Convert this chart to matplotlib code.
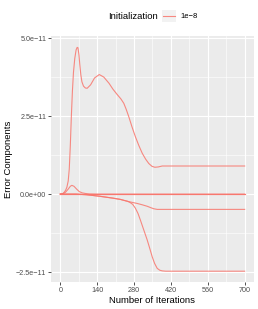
import numpy as np
import matplotlib.pyplot as plt
from matplotlib.lines import Line2D
from matplotlib.patches import Rectangle

plt.rcParams['font.family'] = ['Liberation Sans', 'DejaVu Sans']

# 数据（单位 1e-11）
big_x = [0, 10, 15, 20, 25, 30, 34, 38, 42, 46, 50, 55, 60, 64, 67, 71, 74, 78, 82,
         88, 95, 102, 115, 130, 148, 165, 185, 200, 215, 230, 241, 250, 260, 272,
         285, 298, 311, 324, 336, 348, 359, 372, 387, 420, 700]
big_y = [0, 0.02, 0.06, 0.12, 0.22, 0.42, 0.8, 1.55, 2.5, 3.3, 3.9, 4.35, 4.62,
         4.70, 4.69, 4.45, 4.15, 3.82, 3.6, 3.46, 3.4, 3.39, 3.5, 3.72, 3.83, 3.75,
         3.55, 3.36, 3.2, 3.05, 2.91, 2.72, 2.48, 2.16, 1.84, 1.56, 1.31, 1.12, 0.98,
         0.89, 0.86, 0.87, 0.90, 0.90, 0.90]

bump_x = [0, 10, 20, 30, 38, 44, 52, 62, 72, 83, 95, 110, 140, 700]
bump_y = [0, 0.01, 0.06, 0.16, 0.25, 0.28, 0.25, 0.16, 0.08, 0.04, 0.02, 0.005, 0, 0]

mid_x = [0, 60, 100, 150, 200, 228, 250, 270, 292, 310, 330, 345, 355, 368, 380, 700]
mid_y = [0, 0, -0.02, -0.07, -0.13, -0.17, -0.22, -0.26, -0.30, -0.34, -0.39, -0.44,
         -0.47, -0.49, -0.49, -0.49]

low_x = [0, 60, 100, 150, 200, 228, 255, 265, 275, 285, 295, 304, 317, 330, 340,
         349, 358, 368, 378, 387, 400, 700]
low_y = [0, 0, -0.02, -0.07, -0.13, -0.17, -0.23, -0.27, -0.33, -0.45, -0.62, -0.83,
         -1.15, -1.47, -1.75, -2.01, -2.22, -2.38, -2.44, -2.46, -2.47, -2.47]

zero_x = [0, 700]
zero_y = [0, 0]

curves = [(big_x, big_y), (bump_x, bump_y), (mid_x, mid_y), (low_x, low_y),
          (zero_x, zero_y), (zero_x, zero_y)]

x_ticks = [0, 140, 280, 420, 560, 700]
y_ticks = [-2.5e-11, 0.0, 2.5e-11, 5.0e-11]
y_labels = ['\u22122.5e\u221211', '0.0e+00', '2.5e\u221211', '5.0e\u221211']

line_col = '#F8766D'

fig = plt.figure(figsize=(2.58, 3.09), dpi=100)
ax = fig.add_axes([0.198, 0.087, 0.786, 0.796])
ax.set_facecolor('#EBEBEB')

for xs, ys in curves:
    ax.plot(xs, np.array(ys) * 1e-11, color=line_col, lw=0.8, alpha=0.85,
            solid_joinstyle='round')

ax.set_xlim(-35, 735)
ax.set_ylim(-2.82e-11, 5.06e-11)

ax.set_xticks(x_ticks)
ax.set_xticklabels([str(v) for v in x_ticks])
ax.set_xticks([70, 210, 350, 490, 630], minor=True)
ax.set_yticks(y_ticks)
ax.set_yticklabels(y_labels)
ax.set_yticks([-1.25e-11, 1.25e-11, 3.75e-11], minor=True)

ax.grid(which='major', color='white', lw=0.8)
ax.grid(which='minor', color='white', lw=0.4)
ax.set_axisbelow(True)
for s in ax.spines.values():
    s.set_visible(False)
ax.tick_params(which='major', length=2, width=0.6, color='#333333',
               labelsize=5.2, labelcolor='#4D4D4D', pad=1.5)
ax.tick_params(which='minor', length=0)

ax.set_xlabel('Number of Iterations', fontsize=6.8, labelpad=1.5)
ax.set_ylabel('Error Components', fontsize=6.8, labelpad=2.5)

# 图例（顶部横排）
fig.text(0.610, 0.948, 'Initialization', fontsize=6.8, ha='right', va='center')
fig.patches.append(Rectangle((0.627, 0.928), 0.056, 0.040, transform=fig.transFigure,
                             facecolor='#F2F2F2', edgecolor='none'))
fig.lines.append(Line2D([0.632, 0.678], [0.948, 0.948], transform=fig.transFigure,
                        color=line_col, lw=0.8, alpha=0.85))
fig.text(0.700, 0.948, '1e\u22128', fontsize=5.5, ha='left', va='center')

fig.savefig('out.png', dpi=100)
